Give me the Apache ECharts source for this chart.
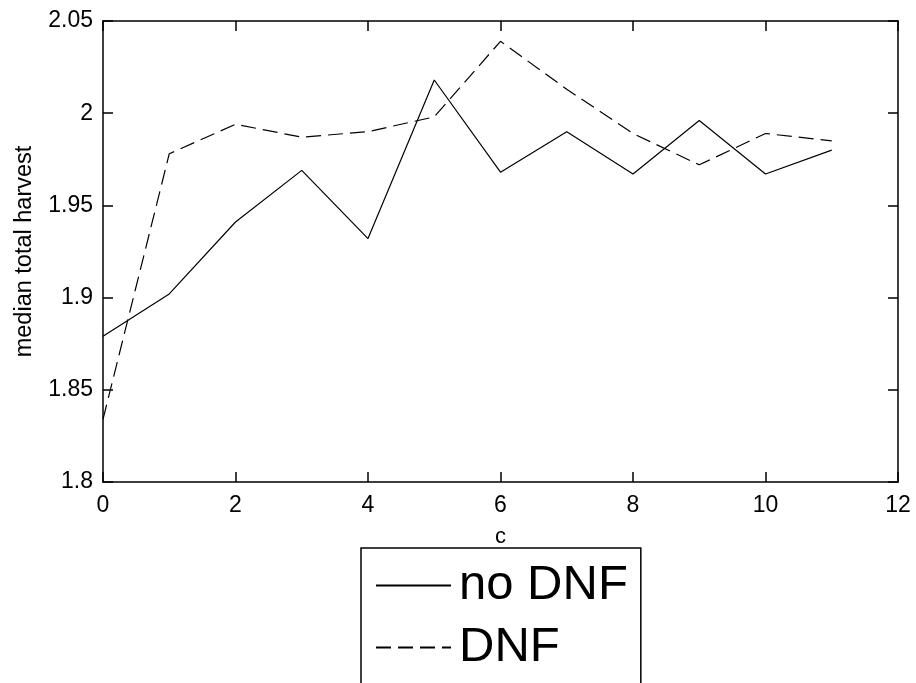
<!DOCTYPE html>
<html>
<head>
<meta charset="utf-8">
<title>median total harvest</title>
<script src="https://cdn.jsdelivr.net/npm/echarts@6/dist/echarts.min.js"></script>
<style>
    html, body { margin: 0; padding: 0; background: #fff; }
    #main { width: 916px; height: 683px; }
</style>
</head>
<body>
<div id="main"></div>
<script>
// x values (c)
var cValues = [0, 1, 2, 3, 4, 5, 6, 7, 8, 9, 10, 11];
// median total harvest, no DNF
var noDnfValues = [1.879, 1.902, 1.941, 1.969, 1.932, 2.018, 1.968, 1.990, 1.967, 1.996, 1.967, 1.980];
// median total harvest, DNF
var dnfValues = [1.834, 1.978, 1.994, 1.987, 1.990, 1.998, 2.039, 2.013, 1.989, 1.972, 1.989, 1.985];

var seriesNames = ['no DNF', 'DNF'];

function pairs(xs, ys) {
    var out = [];
    for (var i = 0; i < xs.length; i++) {
        out.push([xs[i], ys[i]]);
    }
    return out;
}

var fontFamily = '"Liberation Sans", Arial, Helvetica, sans-serif';

// box axes: ticks inside, no labels on top/right
function boxAxis(pos, show, extra) {
    var ax = {
        type: 'value',
        position: pos,
        axisLine: { show: true, onZero: false, lineStyle: { color: '#000', width: 1.5 } },
        axisTick: { show: true, inside: true, length: 10, lineStyle: { color: '#000', width: 1.5 } },
        splitLine: { show: false },
        axisLabel: { show: show, color: '#000', fontSize: 23, fontFamily: fontFamily }
    };
    for (var k in extra) ax[k] = extra[k];
    return ax;
}

var xExtra = { min: 0, max: 12, interval: 2 };
var yExtra = { min: 1.8, max: 2.05, interval: 0.05 };

var xBottom = boxAxis('bottom', true, xExtra);
xBottom.name = 'c';
xBottom.nameLocation = 'middle';
xBottom.nameGap = 44;
xBottom.nameTextStyle = { color: '#000', fontSize: 22, fontFamily: fontFamily };
xBottom.axisLabel.margin = 12;

var yLeft = boxAxis('left', true, yExtra);
yLeft.name = 'median total harvest';
yLeft.nameLocation = 'middle';
yLeft.nameGap = 66;
yLeft.nameTextStyle = { color: '#000', fontSize: 23.5, fontFamily: fontFamily };
yLeft.axisLabel.margin = 10;
yLeft.axisLabel.formatter = function (v) { return String(parseFloat(v.toFixed(2))); };

var chart = echarts.init(document.getElementById('main'));
chart.setOption({
    backgroundColor: '#fff',
    animation: false,
    grid: { left: 103, right: 18, top: 21, bottom: 201 },
    xAxis: [xBottom, boxAxis('top', false, xExtra)],
    yAxis: [yLeft, boxAxis('right', false, yExtra)],
    legend: {
        data: seriesNames,
        orient: 'vertical',
        left: 361,
        top: 548,
        height: 300,
        padding: [10, 13, 80, 14],
        itemGap: 7,
        itemWidth: 75,
        itemHeight: 14,
        borderColor: '#000',
        borderWidth: 1.5,
        backgroundColor: '#fff',
        itemStyle: { opacity: 0 },
        textStyle: { color: '#000', fontSize: 49, lineHeight: 55, fontFamily: fontFamily, padding: [0, 0, 0, 3] }
    },
    series: [
        {
            name: seriesNames[0],
            type: 'line',
            data: pairs(cValues, noDnfValues),
            symbol: 'none',
            color: '#000',
            lineStyle: { color: '#000', width: 1.2, type: 'solid' }
        },
        {
            name: seriesNames[1],
            type: 'line',
            data: pairs(cValues, dnfValues),
            symbol: 'none',
            color: '#000',
            lineStyle: { color: '#000', width: 1.2, type: [15, 7] }
        }
    ]
});
</script>
</body>
</html>
